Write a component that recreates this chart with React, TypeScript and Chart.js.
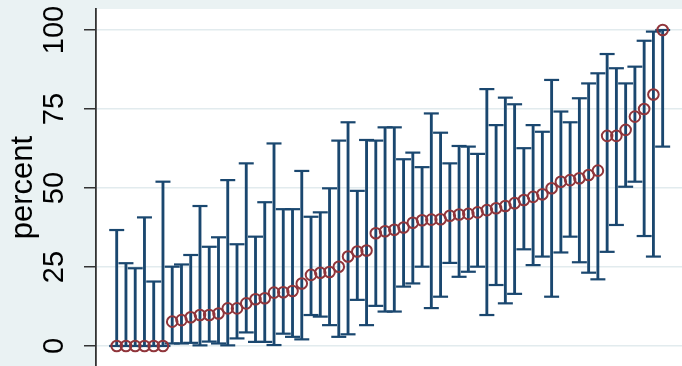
import { useEffect, useRef } from "react";
import { Chart, registerables } from "chart.js";

Chart.register(...registerables);

// Point estimates (percent), sorted ascending
const estimate = [
  0, 0, 0, 0, 0, 0, 7.7, 8.2, 9.1, 9.8, 9.8, 10.3, 11.9, 11.9, 13.5, 14.8, 15.1, 16.9, 17.0, 17.4,
  19.8, 22.5, 23.2, 23.4, 25.1, 28.3, 29.9, 30.2, 35.7, 36.3,
  36.8, 37.5, 39.0, 39.8, 40.0, 40.1, 41.2, 41.6, 41.8, 42.3,
  43.0, 43.6, 44.3, 45.2, 46.2, 47.2, 48.0, 49.9, 52.0, 52.5,
  53.1, 54.1, 55.5, 66.5, 66.5, 68.4, 72.6, 75.0, 79.6, 100,
];

// Lower confidence limits
const lower = [
  0, 0, 0, 0, 0, 0, 0.8, 0.8, 1.0, 0.2, 1.4, 0.8, 0.2, 2.4, 4.3, 1.3, 1.3, 0.3, 3.9, 2.9,
  2.1, 9.8, 9.3, 6.6, 2.9, 3.7, 14.6, 6.6, 12.7, 10.9,
  10.9, 18.8, 19.8, 25.1, 12.0, 15.6, 26.3, 21.9, 23.5, 25.1,
  9.8, 19.3, 13.5, 16.5, 30.6, 25.6, 28.3, 15.6, 29.6, 34.6,
  26.5, 23.2, 21.1, 29.8, 38.3, 50.4, 52.0, 34.8, 28.3, 63.1,
];

// Upper confidence limits
const upper = [
  36.7, 26.2, 24.6, 40.7, 20.4, 52.0, 25.1, 25.8, 28.8, 44.3, 31.4, 34.4, 52.5, 32.2, 57.8, 34.6, 45.5, 64.1, 43.3, 43.3,
  55.4, 40.9, 42.3, 49.9, 65.0, 70.8, 49.1, 65.2, 65.0, 69.2,
  69.2, 59.1, 61.2, 56.6, 73.6, 67.5, 57.8, 63.3, 63.1, 60.8,
  81.3, 69.9, 78.6, 76.5, 62.6, 69.9, 67.8, 84.2, 74.2, 70.8,
  78.4, 83.1, 86.3, 92.4, 87.9, 83.1, 88.4, 96.6, 99.5, 100,
];

const yTicks = [0, 25, 50, 75, 100];
const yTitle = "percent";

// rank of each unit along the x axis
const ranks = estimate.map((_, i) => i + 1);

const NAVY = "#1a476f";
const MAROON = "#90353b";
const OUTER = "#eaf2f3";
const GRID = "#e2ebee";
const AXIS = "#333333";
const FONT = "Liberation Sans, Arial, Helvetica, sans-serif";

const plotBackground = {
  id: "plotBackground",
  beforeDraw(chart: any) {
    const { ctx, chartArea, width, height } = chart;
    ctx.save();
    ctx.fillStyle = OUTER;
    ctx.fillRect(0, 0, width, height);
    ctx.fillStyle = "#ffffff";
    ctx.fillRect(
      chartArea.left,
      chartArea.top,
      chartArea.right - chartArea.left,
      chartArea.bottom - chartArea.top
    );
    ctx.restore();
  },
};

export default function App() {
  const canvasRef = useRef<HTMLCanvasElement | null>(null);

  useEffect(() => {
    const canvas = canvasRef.current;
    if (!canvas) return;

    const capStyle = {
      type: "scatter" as const,
      showLine: false,
      pointStyle: "line" as const,
      pointRadius: 7.5,
      pointHoverRadius: 7.5,
      borderColor: NAVY,
      pointBorderColor: NAVY,
      pointBorderWidth: 2.2,
      borderWidth: 2.2,
      order: 2,
    };

    const chart = new Chart(canvas, {
      type: "bar",
      data: {
        datasets: [
          {
            type: "scatter",
            label: "estimate",
            data: ranks.map((x, i) => ({ x, y: estimate[i] })),
            showLine: false,
            pointStyle: "circle",
            pointRadius: 5.3,
            pointBorderWidth: 2,
            borderColor: MAROON,
            pointBorderColor: MAROON,
            backgroundColor: "rgba(0,0,0,0)",
            pointBackgroundColor: "rgba(0,0,0,0)",
            order: 0,
          } as any,
          {
            ...capStyle,
            label: "upper",
            data: ranks.map((x, i) => ({ x, y: upper[i] })),
          } as any,
          {
            ...capStyle,
            label: "lower",
            data: ranks.map((x, i) => ({ x, y: lower[i] })),
          } as any,
          {
            type: "bar",
            label: "interval",
            data: ranks.map((x, i) => ({ x, y: [lower[i], upper[i]] })),
            backgroundColor: NAVY,
            borderWidth: 0,
            barThickness: 2.2,
            grouped: false,
            order: 3,
          } as any,
        ],
      },
      options: {
        animation: false,
        responsive: false,
        events: [],
        layout: { autoPadding: false, padding: { top: 9, left: 0, right: 0, bottom: 0 } },
        plugins: {
          legend: { display: false },
          tooltip: { enabled: false },
        },
        scales: {
          x: {
            type: "linear",
            min: -1.237,
            max: 62.09,
            offset: false,
            display: false,
            grid: { offset: false },
            afterFit: (scale: any) => {
              scale.paddingLeft = 0;
              scale.paddingRight = 0;
            },
          },
          y: {
            type: "linear",
            min: -6.33,
            max: 106.65,
            afterBuildTicks: (scale: any) => {
              scale.ticks = yTicks.map((v) => ({ value: v }));
            },
            afterFit: (scale: any) => {
              scale.width = 96;
              scale.paddingTop = 0;
              scale.paddingBottom = 0;
            },
            ticks: {
              minRotation: 90,
              maxRotation: 90,
              crossAlign: "center",
              padding: 5,
              color: "#000000",
              font: { family: FONT, size: 29 },
            },
            grid: {
              color: GRID,
              lineWidth: 1.5,
              tickLength: 12,
              tickColor: AXIS,
              tickWidth: 1.5,
            },
            border: { display: true, color: AXIS, width: 1.8 },
            title: {
              display: true,
              text: yTitle,
              color: "#000000",
              font: { family: FONT, size: 31 },
              padding: { top: 5, bottom: 0 },
            },
          },
        },
      } as any,
      plugins: [plotBackground],
    });

    return () => chart.destroy();
  }, []);

  return (
    <div style={{ position: "fixed", left: 0, top: 0, width: 682, height: 366, background: OUTER }}>
      <canvas ref={canvasRef} width={682} height={366} style={{ display: "block" }} />
    </div>
  );
}
